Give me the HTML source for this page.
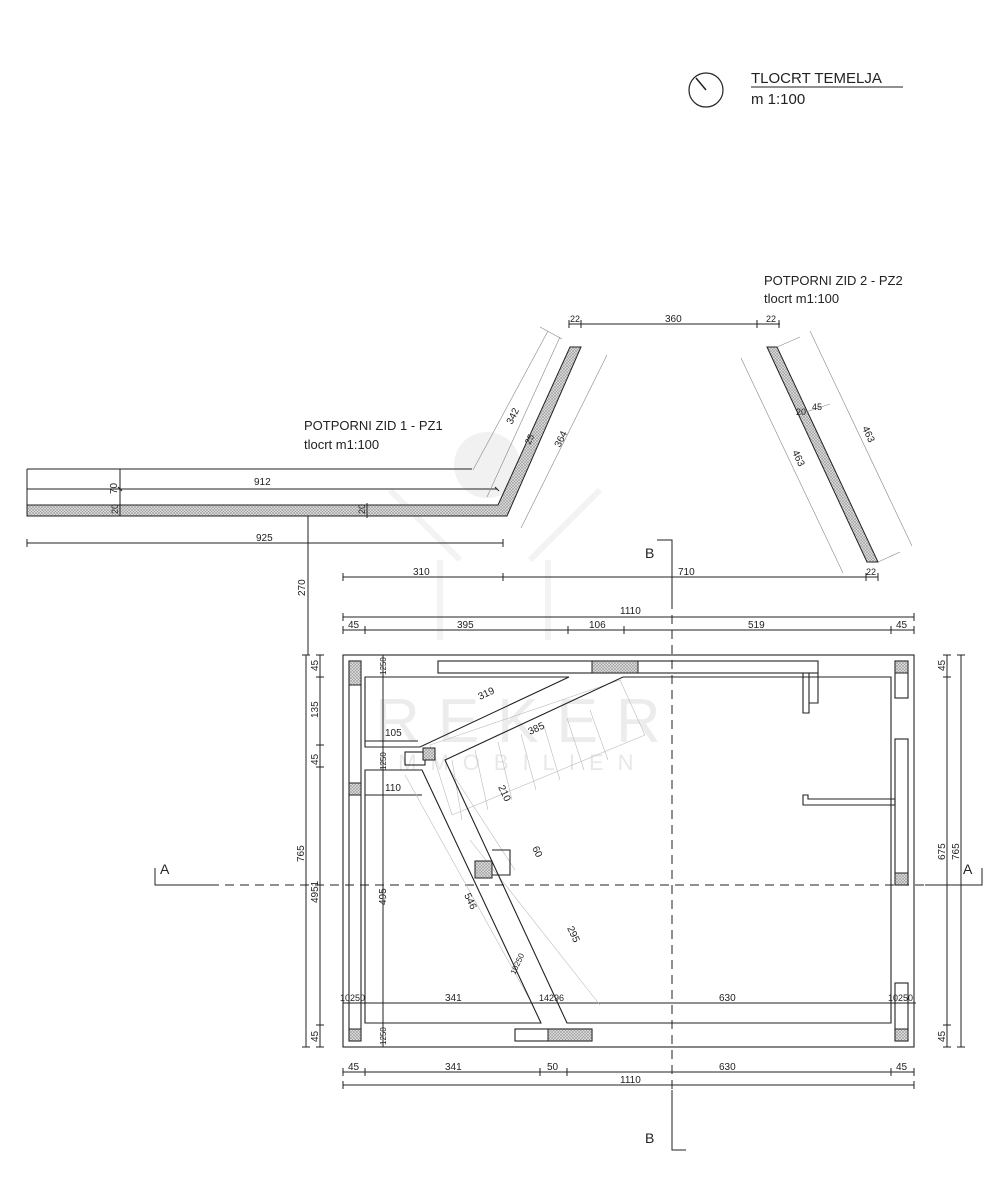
<!DOCTYPE html>
<html><head><meta charset="utf-8"><style>
html,body{margin:0;padding:0;background:#fff;}
svg{display:block;}
text{font-family:"Liberation Sans",sans-serif;fill:#222;}
</style></head><body>
<svg width="1000" height="1200" viewBox="0 0 1000 1200" xmlns="http://www.w3.org/2000/svg">
<defs>
<pattern id="h" width="3" height="3" patternUnits="userSpaceOnUse">
<rect width="3" height="3" fill="#e2e2e2"/><path d="M0 0L3 3M3 0L0 3" stroke="#999" stroke-width="0.6"/>
</pattern>
</defs>

<!-- watermark -->
<g fill="none" stroke="#f3f3f3" stroke-width="6">
<circle cx="487" cy="465" r="33" fill="#f1f1f1" stroke="none"/>
<path d="M390 490 L460 560 M600 490 L530 560 M440 560 V640 M548 560 V640"/>
</g>
<text x="375" y="742" font-size="62" style="fill:#ececec" letter-spacing="18">REKER</text>
<text x="378" y="770" font-size="22" style="fill:#e8e8e8" letter-spacing="14">IMMOBILIEN</text>

<!-- title -->
<circle cx="706" cy="90" r="17" fill="none" stroke="#222" stroke-width="1.2"/>
<line x1="706" y1="90" x2="696" y2="78" stroke="#222" stroke-width="1.5"/>
<text x="751" y="83" font-size="15">TLOCRT TEMELJA</text>
<line x1="751" y1="87" x2="903" y2="87" stroke="#222" stroke-width="1"/>
<text x="751" y="104" font-size="15">m 1:100</text>

<!-- PZ1 -->
<text x="304" y="430" font-size="13">POTPORNI ZID 1 - PZ1</text>
<text x="304" y="449" font-size="13">tlocrt m1:100</text>
<g stroke="#222" stroke-width="1" fill="none">
<path d="M27 505 H498 L570 347 H581 L507 516 H27 Z" fill="url(#h)"/>
<path d="M27 469 H472 M27 469 V516 M27 489 H497 M120 469 V516 M27 543 H503 M308 516 V655"/>
<path d="M27 539 V547 M503 539 V547 M118 487 L122 491 M495 487 L499 491 M367 503 V518"/>
</g>
<g stroke="#888" stroke-width="0.6">
<line x1="473" y1="470" x2="548" y2="331"/><line x1="540" y1="327" x2="562" y2="339"/>
<line x1="487" y1="497" x2="560" y2="337"/>
<line x1="521" y1="528" x2="607" y2="355"/>
</g>
<text x="254" y="485" font-size="10">912</text>
<text x="256" y="541" font-size="10">925</text>
<text transform="translate(117 494) rotate(-90)" font-size="10">70</text>
<text transform="translate(118 514) rotate(-90)" font-size="9">20</text>
<text transform="translate(365 514) rotate(-90)" font-size="9">20</text>
<text transform="translate(305 596) rotate(-90)" font-size="10">270</text>
<text transform="translate(512 425) rotate(-64)" font-size="10">342</text>
<text transform="translate(560 448) rotate(-64)" font-size="10">364</text>
<text transform="translate(530 445) rotate(-64)" font-size="9">25</text>

<!-- PZ2 -->
<text x="764" y="285" font-size="13">POTPORNI ZID 2 - PZ2</text>
<text x="764" y="303" font-size="13">tlocrt m1:100</text>
<path d="M767 347 H777 L878 562 H867 Z" fill="url(#h)" stroke="#222" stroke-width="1"/>
<g stroke="#888" stroke-width="0.6">
<line x1="741" y1="358" x2="843" y2="573"/>
<line x1="810" y1="331" x2="912" y2="546"/>
<line x1="777" y1="347" x2="800" y2="337"/><line x1="878" y1="562" x2="900" y2="552"/>
<line x1="800" y1="414" x2="830" y2="404"/>
</g>
<text transform="translate(792 452) rotate(65)" font-size="10">463</text>
<text transform="translate(862 428) rotate(65)" font-size="10">463</text>
<text x="796" y="415" font-size="9">20</text><text x="812" y="410" font-size="9">45</text>
<g stroke="#222" stroke-width="1">
<path d="M569 324 H780 M569 320 V328 M581 320 V328 M757 320 V328 M779 320 V328"/>
<path d="M343 577 H878 M343 573 V581 M503 573 V581 M866 573 V581 M878 573 V581"/>
</g>
<text x="570" y="322" font-size="9">22</text><text x="665" y="322" font-size="10">360</text><text x="766" y="322" font-size="9">22</text>
<text x="413" y="575" font-size="10">310</text><text x="678" y="575" font-size="10">710</text><text x="866" y="575" font-size="9">22</text>

<!-- section lines -->
<g stroke="#222" stroke-width="1" fill="none">
<path d="M657 540 H672 V600"/>
<path d="M672 600 V1090" stroke-dasharray="9 6"/>
<path d="M672 1090 V1150 H686"/>
<path d="M155 868 V885 H210"/>
<path d="M210 885 H925" stroke-dasharray="9 6"/>
<path d="M925 885 H982 V868"/>
</g>
<text x="645" y="558" font-size="14">B</text>
<text x="645" y="1143" font-size="14">B</text>
<text x="160" y="874" font-size="14">A</text>
<text x="963" y="874" font-size="14">A</text>

<!-- dimensions around plan -->
<g stroke="#222" stroke-width="1" fill="none">
<path d="M343 617 H914 M343 613 V621 M914 613 V621"/>
<path d="M343 630 H914 M343 626 V634 M365 626 V634 M568 626 V634 M624 626 V634 M891 626 V634 M914 626 V634"/>
<path d="M343 1072 H914 M343 1068 V1076 M365 1068 V1076 M540 1068 V1076 M567 1068 V1076 M891 1068 V1076 M914 1068 V1076"/>
<path d="M343 1085 H914 M343 1081 V1089 M914 1081 V1089"/>
<path d="M306 655 V1047 M302 655 H310 M302 1047 H310"/>
<path d="M320 655 V1047 M316 655 H324 M316 677 H324 M316 745 H324 M316 767 H324 M316 1025 H324 M316 1047 H324"/>
<path d="M947 655 V1047 M943 655 H951 M943 677 H951 M943 1025 H951 M943 1047 H951"/>
<path d="M961 655 V1047 M957 655 H965 M957 1047 H965"/>
<path d="M383 655 V1047 M365 741 H418 M365 795 H422 M343 1003 H916"/>
</g>
<text x="620" y="614" font-size="10">1110</text>
<text x="348" y="628" font-size="10">45</text><text x="457" y="628" font-size="10">395</text><text x="589" y="628" font-size="10">106</text><text x="748" y="628" font-size="10">519</text><text x="896" y="628" font-size="10">45</text>
<text x="348" y="1070" font-size="10">45</text><text x="445" y="1070" font-size="10">341</text><text x="547" y="1070" font-size="10">50</text><text x="719" y="1070" font-size="10">630</text><text x="896" y="1070" font-size="10">45</text>
<text x="620" y="1083" font-size="10">1110</text>
<text x="445" y="1001" font-size="10">341</text><text x="719" y="1001" font-size="10">630</text>
<text x="340" y="1001" font-size="9">10250</text><text x="888" y="1001" font-size="9">10250</text><text x="539" y="1001" font-size="9">14296</text>
<text x="385" y="736" font-size="10">105</text><text x="385" y="791" font-size="10">110</text>
<text transform="translate(304 862) rotate(-90)" font-size="10">765</text>
<text transform="translate(318 671) rotate(-90)" font-size="10">45</text>
<text transform="translate(318 718) rotate(-90)" font-size="10">135</text>
<text transform="translate(318 765) rotate(-90)" font-size="10">45</text>
<text transform="translate(318 903) rotate(-90)" font-size="10">4951</text>
<text transform="translate(318 1042) rotate(-90)" font-size="10">45</text>
<text transform="translate(386 905) rotate(-90)" font-size="10">495</text>
<text transform="translate(945 671) rotate(-90)" font-size="10">45</text>
<text transform="translate(945 860) rotate(-90)" font-size="10">675</text>
<text transform="translate(945 1042) rotate(-90)" font-size="10">45</text>
<text transform="translate(959 860) rotate(-90)" font-size="10">765</text>
<text transform="translate(386 675) rotate(-90)" font-size="8">1250</text>
<text transform="translate(386 770) rotate(-90)" font-size="8">1250</text>
<text transform="translate(386 1045) rotate(-90)" font-size="8">1250</text>

<!-- stairs (light) -->
<g stroke="#bbb" stroke-width="0.6" fill="none">
<path d="M430 745 L620 680 L645 735 L452 815 Z"/>
<path d="M452 760 L462 820 M475 750 L488 810 M498 742 L512 800 M521 734 L536 790 M544 726 L560 780 M567 718 L584 770 M590 710 L608 760"/>
<path d="M450 770 L515 870 M470 840 L600 1005 M405 775 L530 1000"/>
</g>

<!-- plan -->
<g stroke="#222" stroke-width="1.1" fill="none">
<rect x="343" y="655" width="571" height="392"/>
<rect x="349" y="661" width="12" height="380"/>
<rect x="895" y="661" width="13" height="37"/>
<rect x="895" y="739" width="13" height="146"/>
<rect x="895" y="983" width="13" height="58"/>
<rect x="438" y="661" width="380" height="12"/>
<rect x="515" y="1029" width="77" height="12"/>
<path d="M365 677 H569 L420 747 H365 Z"/>
<path d="M623 677 H891 V1023 H567 L445 760 Z"/>
<path d="M422 770 L541 1023 H365 V770 Z"/>
<rect x="405" y="752" width="20" height="13"/>
<path d="M803 673 V713 H809 V673 M809 673 V703 H818 V673"/>
<path d="M803 795 V805 H895 V799 H808 V795 Z"/>
<path d="M492 850 H510 V875 H492"/>
</g>
<g fill="url(#h)" stroke="#222" stroke-width="1">
<rect x="349" y="661" width="12" height="24"/>
<rect x="349" y="783" width="12" height="12"/>
<rect x="349" y="1029" width="12" height="12"/>
<rect x="895" y="661" width="13" height="12"/>
<rect x="895" y="873" width="13" height="12"/>
<rect x="895" y="1029" width="13" height="12"/>
<rect x="592" y="661" width="46" height="12"/>
<rect x="548" y="1029" width="44" height="12"/>
<rect x="475" y="861" width="17" height="17"/>
<rect x="423" y="748" width="12" height="12"/>
</g>
<text transform="translate(480 700) rotate(-25)" font-size="10">319</text>
<text transform="translate(530 735) rotate(-25)" font-size="10">385</text>
<text transform="translate(498 787) rotate(65)" font-size="10">210</text>
<text transform="translate(532 848) rotate(65)" font-size="10">60</text>
<text transform="translate(464 895) rotate(65)" font-size="10">546</text>
<text transform="translate(567 928) rotate(65)" font-size="10">295</text>
<text transform="translate(515 975) rotate(-65)" font-size="8">10250</text>
</svg>
</body></html>
